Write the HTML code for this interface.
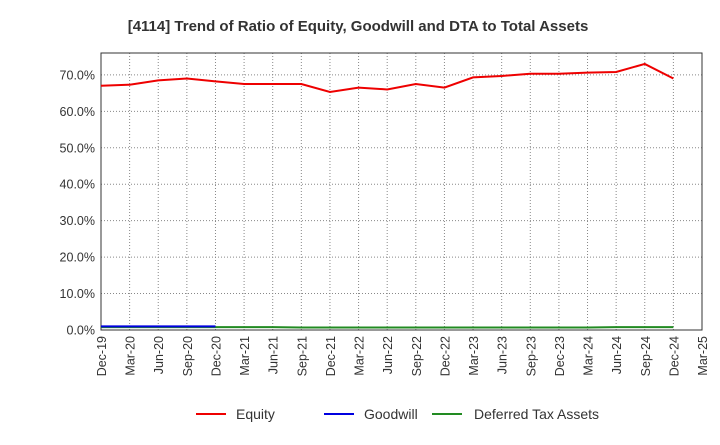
<!DOCTYPE html>
<html><head><meta charset="utf-8"><style>
body{margin:0;background:#fff;font-family:"Liberation Sans",sans-serif}
svg text{font-family:"Liberation Sans",sans-serif}
</style></head><body>
<svg id="c" width="720" height="440">
<text x="358" y="31" text-anchor="middle" font-size="15" font-weight="bold" fill="#333">[4114]  Trend of Ratio of Equity, Goodwill and DTA to Total Assets</text>
<g id="grid"></g><g id="axes"></g><g id="series"></g>
<g>
<line x1="196" y1="414" x2="226" y2="414" stroke="#e00" stroke-width="2"/><text x="236" y="419" font-size="14" fill="#333">Equity</text>
<line x1="324" y1="414" x2="354" y2="414" stroke="#0000e0" stroke-width="2"/><text x="364" y="419" font-size="14" fill="#333">Goodwill</text>
<line x1="432" y1="414" x2="462" y2="414" stroke="#228b22" stroke-width="2"/><text x="474" y="419" font-size="14" fill="#333">Deferred Tax Assets</text>
</g>
</svg>
<script>
const categories=["Dec-19","Mar-20","Jun-20","Sep-20","Dec-20","Mar-21","Jun-21","Sep-21","Dec-21","Mar-22","Jun-22","Sep-22","Dec-22","Mar-23","Jun-23","Sep-23","Dec-23","Mar-24","Jun-24","Sep-24","Dec-24","Mar-25"];
const equity=[67.0,67.3,68.5,69.0,68.2,67.5,67.5,67.5,65.3,66.5,66.0,67.5,66.5,69.3,69.7,70.3,70.3,70.6,70.8,73.0,69.0];
const goodwill=[1.0,1.0,1.0,1.0,1.0];
const dta=[0.8,0.8,0.8,0.8,0.8,0.8,0.8,0.7,0.7,0.7,0.7,0.7,0.7,0.7,0.7,0.7,0.7,0.7,0.8,0.8,0.8];
const yTicks=[0,10,20,30,40,50,60,70];
const L=101,R=702,T=53,B=330,yMax=76;
const ns="http://www.w3.org/2000/svg";
const x=i=>L+i*(R-L)/(categories.length-1);
const y=v=>B-v*(B-T)/yMax;
function mk(p,t,a){const e=document.createElementNS(ns,t);for(const k in a)e.setAttribute(k,a[k]);p.appendChild(e);return e;}
const grid=document.getElementById('grid'),axes=document.getElementById('axes'),ser=document.getElementById('series');
categories.forEach((c,i)=>{
const g=mk(grid,'line',{x1:x(i),x2:x(i),y1:T,y2:B,stroke:'#888','stroke-dasharray':'1,2','stroke-width':1});


const t=mk(axes,'text',{transform:`translate(${x(i)+5},${B+6}) rotate(-90)`,'text-anchor':'end','font-size':12.5,fill:'#333'});
t.textContent=c;


});
yTicks.forEach(v=>{
const g=mk(grid,'line',{x1:L,x2:R,y1:y(v),y2:y(v),stroke:'#888','stroke-dasharray':'1,2','stroke-width':1});


const t=mk(axes,'text',{x:L-6,y:y(v)+4.5,'text-anchor':'end','font-size':12.5,fill:'#333'});
t.textContent=v.toFixed(1)+'%';


});
const fr=mk(axes,'rect',{x:L,y:T,width:R-L,height:B-T,fill:'none',stroke:'#333','stroke-width':1});


function line(arr,col,name){
const p=mk(ser,'polyline',{points:arr.map((v,i)=>x(i)+','+y(v)).join(' '),fill:'none',stroke:col,'stroke-width':2});


}
line(dta,'#228b22','dta-line');
line(goodwill,'#0000e0','goodwill-line');
line(equity,'#e00','equity-line');
</script>
</body></html>
